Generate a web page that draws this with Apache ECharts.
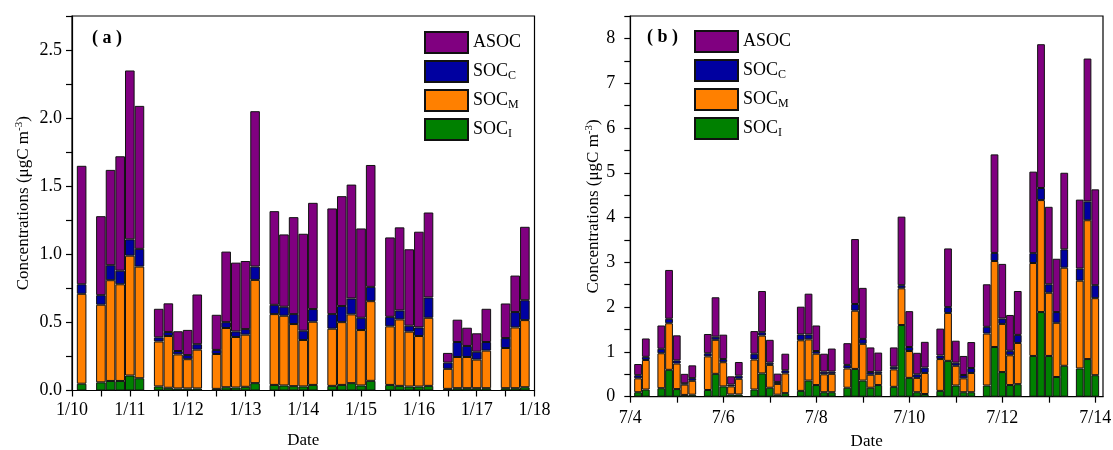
<!DOCTYPE html>
<html><head><meta charset="utf-8">
<script src="https://cdn.jsdelivr.net/npm/echarts@6/dist/echarts.min.js"></script>
<style>html,body{margin:0;padding:0;background:#fff}#c{width:1113px;height:450px}</style>
</head><body><div id="c"></div>
<script>
// Panel (a): winter, 1/10 - 1/18, samples every 4 h (slot k = 1/10 00:00 + k*4h)
const slotsA = [1,3,4,5,6,7,9,10,11,12,13,15,16,17,18,19,21,22,23,24,25,27,28,29,30,31,33,34,35,36,37,39,40,41,42,43,45,46,47];
const socI_A = [0.05,0.06,0.07,0.07,0.11,0.09, 0.03,0.02,0.015,0.015,0.015, 0.012,0.024,0.022,0.027,0.054, 0.041,0.037,0.032,0.03,0.041, 0.034,0.041,0.054,0.037,0.071, 0.041,0.034,0.029,0.029,0.034, 0.012,0.017,0.017,0.017,0.017, 0.017,0.017,0.024];
const socM_A = [0.66,0.57,0.74,0.71,0.88,0.82, 0.33,0.38,0.25,0.215,0.285, 0.256,0.435,0.371,0.383,0.758, 0.52,0.512,0.456,0.341,0.464, 0.42,0.461,0.505,0.407,0.585, 0.43,0.488,0.403,0.371,0.50, 0.147,0.229,0.229,0.21,0.276, 0.295,0.446,0.493];
const socC_A = [0.07,0.07,0.11,0.10,0.12,0.13, 0.03,0.03,0.025,0.03,0.04, 0.03,0.043,0.041,0.041,0.098, 0.068,0.066,0.073,0.068,0.093, 0.107,0.118,0.117,0.09,0.105, 0.07,0.066,0.044,0.063,0.149, 0.046,0.11,0.081,0.058,0.063, 0.073,0.113,0.146];
const asoc_A = [0.87,0.58,0.70,0.84,1.24,1.05, 0.21,0.21,0.145,0.185,0.365, 0.258,0.518,0.505,0.50,1.141, 0.688,0.531,0.712,0.712,0.78, 0.776,0.807,0.836,0.656,0.895, 0.583,0.61,0.561,0.703,0.624, 0.071,0.164,0.134,0.135,0.244, 0.254,0.268,0.539];
const daysA = ['1/10','1/11','1/12','1/13','1/14','1/15','1/16','1/17','1/18'];

// Panel (b): summer, 7/4 - 7/14
const slotsB = [1,2, 4,5,6,7,8, 10,11,12,13,14, 16,17,18,19,20, 22,23,24,25,26, 28,29,30,31,32, 34,35,36,37,38, 40,41,42,43,44, 46,47,48,49,50, 52,53,54,55,56, 58,59,60];
const socI_B = [0.10,0.16, 0.19,0.60,0.17,0.04,0.045, 0.15,0.51,0.23,0.05,0.05, 0.16,0.52,0.20,0.045,0.08, 0.13,0.36,0.26,0.10,0.10, 0.20,0.62,0.36,0.20,0.26, 0.22,1.60,0.42,0.10,0.06, 0.13,0.80,0.25,0.10,0.10, 0.25,1.11,0.55,0.26,0.28, 0.91,1.89,0.91,0.44,0.69, 0.63,0.84,0.48];
const socM_B = [0.31,0.66, 0.78,1.04,0.57,0.23,0.31, 0.75,0.76,0.54,0.18,0.35, 0.67,0.845,0.51,0.24,0.44, 1.13,0.92,0.70,0.40,0.41, 0.43,1.30,0.82,0.29,0.25, 0.39,0.82,0.60,0.32,0.47, 0.71,1.07,0.44,0.31,0.43, 1.16,1.92,1.075,0.665,0.92, 2.075,2.50,1.41,1.21,2.19, 1.96,3.10,1.72];
const socC_B = [0.07,0.07, 0.10,0.10,0.07,0.03,0.06, 0.07,0.07,0.07,0.04,0.07, 0.13,0.075,0.05,0.045,0.07, 0.13,0.11,0.06,0.06,0.05, 0.08,0.15,0.11,0.06,0.05, 0.06,0.07,0.09,0.08,0.12, 0.08,0.13,0.07,0.075,0.11, 0.15,0.18,0.12,0.10,0.18, 0.22,0.27,0.19,0.24,0.41, 0.27,0.42,0.29];
const asoc_B = [0.25,0.41, 0.52,1.09,0.56,0.21,0.285, 0.43,0.88,0.545,0.185,0.305, 0.505,0.92,0.51,0.185,0.37, 0.62,0.91,0.57,0.40,0.515, 0.485,1.45,1.14,0.55,0.425, 0.43,1.53,0.80,0.48,0.575, 0.60,1.31,0.49,0.425,0.58, 0.95,2.20,1.22,0.80,0.98, 1.82,3.21,1.73,1.19,1.71, 1.54,3.19,2.14];
const daysB = ['7/4','7/5','7/6','7/7','7/8','7/9','7/10','7/11','7/12','7/13','7/14'];

const seriesNames = ['SOC_I','SOC_M','SOC_C','ASOC'];
const legendOrder = ['ASOC','SOC_C','SOC_M','SOC_I'];
const colors = {ASOC:'#800080', SOC_C:'#0000A0', SOC_M:'#FF8000', SOC_I:'#008000'};

const FONT = '"Liberation Serif","Times New Roman",serif';
const chart = echarts.init(document.getElementById('c'), null, {renderer:'canvas'});

const NA = 49;   // slots 0..48 (1/10 00:00 .. 1/18 00:00)
const NB = 62;   // slots 0..61 (7/4 00:00 .. 7/14 04:00)
function full(n, slots, vals){ const a = new Array(n).fill('-'); slots.forEach((s,i)=>{ a[s] = vals[i]; }); return a; }
const catsA = Array.from({length:NA}, (_,i)=>String(i));
const catsB = Array.from({length:NB}, (_,i)=>String(i));
const dataA = {SOC_I:socI_A, SOC_M:socM_A, SOC_C:socC_A, ASOC:asoc_A};
const dataB = {SOC_I:socI_B, SOC_M:socM_B, SOC_C:socC_B, ASOC:asoc_B};

const series = [];
seriesNames.forEach(n=>{
  series.push({type:'bar', name:n, stack:'a', xAxisIndex:0, yAxisIndex:0, barWidth:9.6,
    data: full(NA, slotsA, dataA[n]), itemStyle:{color:colors[n], borderColor:'#111', borderWidth:1}});
});
seriesNames.forEach(n=>{
  series.push({type:'bar', name:n, stack:'b', xAxisIndex:1, yAxisIndex:1, barWidth:7.75,
    data: full(NB, slotsB, dataB[n]), itemStyle:{color:colors[n], borderColor:'#111', borderWidth:1}});
});

const legendFmt = n => n === 'ASOC' ? '{m|ASOC}' : '{m|SOC}{s|' + n.slice(4) + '}';
const legendText = {fontFamily:FONT, fontSize:18, color:'#000',
  rich:{m:{fontFamily:FONT, fontSize:18, lineHeight:20, color:'#000'},
        s:{fontFamily:FONT, fontSize:12, lineHeight:12, padding:[9,0,0,0], color:'#000'}}};
function legend(left, top){
  return {left:left, top:top, orient:'vertical', itemWidth:43, itemHeight:21, itemGap:6,
    icon:'rect', data:legendOrder, formatter:legendFmt, textStyle:legendText, selectedMode:false};
}

const axisLineStyle = {color:'#000', width:1.2};
const yName = '{t|Concentrations (μgC m}{p|-3}{t|)}';
const yNameStyle = {fontFamily:FONT, fontSize:17, color:'#000',
  rich:{t:{fontFamily:FONT, fontSize:17, color:'#000'}, p:{fontFamily:FONT, fontSize:11, padding:[0,0,9,0], color:'#000'}}};

const option = {
  animation:false,
  backgroundColor:'#fff',
  textStyle:{fontFamily:FONT},
  grid:[
    {left:72, right:578.5, top:16, bottom:59.5, show:true, borderColor:'#000', borderWidth:1.2, outerBoundsMode:'none', containLabel:false},
    {left:630.3, right:10, top:16, bottom:53.3, show:true, borderColor:'#000', borderWidth:1.2, outerBoundsMode:'none', containLabel:false}
  ],
  legend:[legend(419,26), legend(689,25)],
  xAxis:[
    {type:'category', gridIndex:0, data:catsA, boundaryGap:false,
     axisLine:{show:true, onZero:false, lineStyle:axisLineStyle},
     axisTick:{show:true, length:6, interval:2, lineStyle:axisLineStyle},
     splitLine:{show:false},
     axisLabel:{fontFamily:FONT, fontSize:18, color:'#000', margin:11, interval:5,
       formatter:(v, idx) => daysA[Math.round(idx/6)]},
     name:'Date', nameLocation:'middle', nameGap:42,
     nameTextStyle:{fontFamily:FONT, fontSize:17, color:'#000'}},
    {type:'category', gridIndex:1, data:catsB, boundaryGap:false,
     axisLine:{show:true, onZero:false, lineStyle:axisLineStyle},
     axisTick:{show:true, length:6, interval:5, lineStyle:axisLineStyle},
     splitLine:{show:false},
     axisLabel:{fontFamily:FONT, fontSize:18, color:'#000', margin:13, interval:11,
       formatter:(v, idx) => daysB[Math.round(idx/6)]},
     name:'Date', nameLocation:'middle', nameGap:36,
     nameTextStyle:{fontFamily:FONT, fontSize:17, color:'#000'}}
  ],
  yAxis:[
    {type:'value', gridIndex:0, min:0, max:2.75, interval:0.25,
     axisLine:{show:true, lineStyle:axisLineStyle},
     axisTick:{show:true, length:6, lineStyle:axisLineStyle},
     splitLine:{show:false},
     axisLabel:{fontFamily:FONT, fontSize:18, color:'#000', margin:10,
       formatter:v => Math.abs(v*2 - Math.round(v*2)) < 1e-6 ? v.toFixed(1) : ''},
     name:yName, nameLocation:'middle', nameRotate:90, nameGap:38, nameTextStyle:yNameStyle},
    {type:'value', gridIndex:1, min:0, max:8.5, interval:0.5,
     axisLine:{show:true, lineStyle:axisLineStyle},
     axisTick:{show:true, length:6, lineStyle:axisLineStyle},
     splitLine:{show:false},
     axisLabel:{fontFamily:FONT, fontSize:18, color:'#000', margin:15,
       formatter:v => Number.isInteger(v) ? String(v) : ''},
     name:yName, nameLocation:'middle', nameRotate:90, nameGap:26, nameTextStyle:yNameStyle}
  ],
  graphic:[
    {type:'text', left:92, top:29, style:{text:'( a )', fontFamily:FONT, fontSize:18, fontWeight:'bold', fill:'#000'}},
    {type:'text', left:647, top:28, style:{text:'( b )', fontFamily:FONT, fontSize:18, fontWeight:'bold', fill:'#000'}}
  ],
  series:series
};
chart.setOption(option);
</script></body></html>
